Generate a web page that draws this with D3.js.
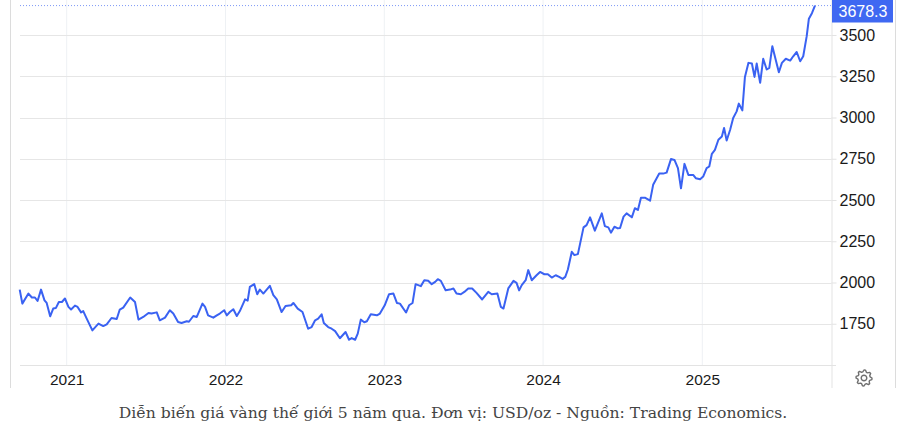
<!DOCTYPE html>
<html>
<head>
<meta charset="utf-8">
<script src="https://cdn.jsdelivr.net/npm/d3@7"></script>
<style>
  body { margin: 0; background: #fff; }
  text { font-family: "Liberation Sans", Arial, sans-serif; }
</style>
</head>
<body>
<div id="viz-container"></div>
<script>
// weekly-ish readings of the gold price (USD/oz)
var dates = [
  "2020-09-15","2020-09-21","2020-10-05","2020-10-13","2020-10-20","2020-10-26","2020-11-03","2020-11-11",
  "2020-11-16","2020-11-24","2020-12-01","2020-12-07","2020-12-14","2020-12-21","2020-12-28","2021-01-05",
  "2021-01-11","2021-01-20","2021-01-26","2021-02-03","2021-02-08","2021-02-16","2021-03-01","2021-03-15",
  "2021-03-26","2021-04-03","2021-04-14","2021-04-26","2021-05-03","2021-05-11","2021-05-27","2021-06-07",
  "2021-06-15","2021-06-26","2021-07-08","2021-07-15","2021-07-27","2021-08-03","2021-08-15","2021-08-26",
  "2021-09-03","2021-09-14","2021-09-22","2021-10-04","2021-10-09","2021-10-19","2021-10-27","2021-11-09",
  "2021-11-15","2021-11-22","2021-12-04","2021-12-12","2021-12-19","2021-12-29","2022-01-04","2022-01-11",
  "2022-01-19","2022-01-27","2022-02-03","2022-02-15","2022-02-21","2022-02-26","2022-03-08","2022-03-15",
  "2022-03-21","2022-03-29","2022-04-13","2022-04-21","2022-04-29","2022-05-10","2022-05-19","2022-06-01",
  "2022-06-06","2022-06-16","2022-06-27","2022-07-10","2022-07-18","2022-07-26","2022-08-02","2022-08-10",
  "2022-08-15","2022-08-25","2022-09-02","2022-09-10","2022-09-21","2022-10-04","2022-10-12","2022-10-18",
  "2022-10-26","2022-11-01","2022-11-08","2022-11-16","2022-11-22","2022-12-01","2022-12-15","2022-12-22",
  "2023-01-02","2023-01-12","2023-01-22","2023-01-30","2023-02-06","2023-02-20","2023-02-27","2023-03-07",
  "2023-03-14","2023-03-26","2023-04-03","2023-04-12","2023-04-20","2023-04-28","2023-05-04","2023-05-11",
  "2023-05-22","2023-06-01","2023-06-09","2023-06-16","2023-06-26","2023-07-04","2023-07-13","2023-07-22",
  "2023-08-01","2023-08-14","2023-08-28","2023-09-05","2023-09-18","2023-09-26","2023-10-02","2023-10-13",
  "2023-10-25","2023-11-01","2023-11-07","2023-11-13","2023-11-22","2023-11-28","2023-12-06","2023-12-17",
  "2023-12-25","2024-01-04","2024-01-12","2024-01-21","2024-01-30","2024-02-07","2024-02-15","2024-02-21",
  "2024-02-27","2024-03-07","2024-03-13","2024-03-21","2024-04-03","2024-04-10","2024-04-18","2024-04-29",
  "2024-05-15","2024-05-22","2024-05-30","2024-06-05","2024-06-13","2024-06-21","2024-06-26","2024-07-04",
  "2024-07-11","2024-07-23","2024-07-30","2024-08-06","2024-08-13","2024-08-22","2024-09-03","2024-09-10",
  "2024-09-24","2024-10-03","2024-10-11","2024-10-21","2024-10-29","2024-11-06","2024-11-13","2024-11-21",
  "2024-11-30","2024-12-11","2024-12-17","2024-12-27","2025-01-03","2025-01-11","2025-01-17","2025-01-23",
  "2025-01-30","2025-02-07","2025-02-15","2025-02-20","2025-02-26","2025-03-06","2025-03-13","2025-03-21",
  "2025-03-26","2025-04-03","2025-04-09","2025-04-17","2025-04-25","2025-05-01","2025-05-06","2025-05-14",
  "2025-05-21","2025-05-29","2025-06-04","2025-06-11","2025-06-17","2025-06-26","2025-07-03","2025-07-12",
  "2025-07-22","2025-07-29","2025-08-06","2025-08-14","2025-08-21","2025-08-29","2025-09-03","2025-09-10",
  "2025-09-17"
];
var prices = [
  1957,1872,1933,1909,1909,1888,1957,1892,
  1876,1795,1842,1845,1882,1882,1903,1852,
  1836,1860,1852,1819,1827,1781,1710,1751,
  1736,1746,1785,1779,1836,1848,1909,1882,
  1775,1791,1815,1812,1819,1771,1787,1832,
  1812,1761,1755,1765,1762,1797,1791,1872,
  1852,1801,1787,1801,1812,1832,1801,1821,
  1838,1797,1827,1898,1890,1973,1990,1929,
  1957,1933,1980,1923,1898,1821,1858,1862,
  1876,1842,1821,1720,1730,1771,1781,1807,
  1755,1730,1720,1705,1662,1700,1653,1663,
  1653,1690,1775,1759,1765,1807,1801,1812,
  1862,1929,1933,1876,1872,1818,1862,1876,
  1990,1978,2014,2010,1990,2004,2020,2010,
  1953,1957,1964,1933,1929,1943,1964,1964,
  1937,1897,1943,1929,1933,1852,1842,1964,
  2010,1998,1952,1984,2014,2075,2014,2044,
  2064,2050,2050,2030,2044,2034,2022,2034,
  2079,2186,2166,2172,2334,2348,2395,2314,
  2419,2342,2334,2302,2338,2328,2330,2399,
  2419,2395,2450,2440,2514,2514,2496,2592,
  2660,2660,2666,2748,2743,2693,2571,2719,
  2652,2652,2632,2626,2642,2693,2703,2780,
  2804,2865,2885,2936,2861,2926,2997,3037,
  3084,3043,3246,3331,3327,3246,3327,3210,
  3356,3291,3301,3432,3368,3274,3331,3356,
  3345,3371,3397,3341,3371,3493,3599,3632,
  3678.3
];
var yTicks = [1750, 2000, 2250, 2500, 2750, 3000, 3250, 3500];
var xTicks = ["2021-01-01", "2022-01-01", "2023-01-01", "2024-01-01", "2025-01-01"];
var lastLabel = "3678.3";
var caption = "Diễn biến giá vàng thế giới 5 năm qua. Đơn vị: USD/oz - Nguồn: Trading Economics.";

var parse = d3.timeParse("%Y-%m-%d");
var data = dates.map(function(d, i) { return {date: parse(d), value: prices[i]}; });

var W = 898, H = 427;
var plot = {left: 20, right: 831.5, top: 2, bottom: 365};

var svg = d3.select('#viz-container').append('svg')
  .attr('width', W)
  .attr('height', H);

var x = d3.scaleTime()
  .domain([parse(xTicks[0]), parse(xTicks[4])])
  .range([66.7, 702.3]);

var y = d3.scaleLinear()
  .domain([1500, 3700])
  .range([plot.bottom, plot.top]);

// panel borders
svg.append('line')
  .attr('x1', 10.5).attr('x2', 10.5).attr('y1', 0).attr('y2', 388)
  .attr('stroke', '#dcdcdc');
svg.append('line')
  .attr('x1', 895.5).attr('x2', 895.5).attr('y1', 0).attr('y2', 388)
  .attr('stroke', '#dcdcdc');

// vertical year grid
svg.append('g').selectAll('line')
  .data(xTicks)
  .enter().append('line')
  .attr('x1', function(d) { return x(parse(d)); })
  .attr('x2', function(d) { return x(parse(d)); })
  .attr('y1', 0)
  .attr('y2', plot.bottom)
  .attr('stroke', '#eef1f4');

// horizontal grid
svg.append('g').selectAll('line')
  .data(yTicks)
  .enter().append('line')
  .attr('x1', plot.left)
  .attr('x2', plot.right)
  .attr('y1', function(d) { return Math.round(y(d)) + 0.5; })
  .attr('y2', function(d) { return Math.round(y(d)) + 0.5; })
  .attr('stroke', '#e6e6e6');

// x axis baseline
svg.append('line')
  .attr('x1', plot.left).attr('x2', 836)
  .attr('y1', plot.bottom + 0.5).attr('y2', plot.bottom + 0.5)
  .attr('stroke', '#e3e3e3');

// right axis divider
svg.append('line')
  .attr('x1', plot.right + 0.5).attr('x2', plot.right + 0.5)
  .attr('y1', 0).attr('y2', 388)
  .attr('stroke', '#e3e3e3');

// y axis labels
var yAxis = svg.append('g')
  .attr('transform', 'translate(' + plot.right + ',0)')
  .call(d3.axisRight(y).tickValues(yTicks).tickSize(5).tickPadding(3)
    .tickFormat(d3.format('d')));
yAxis.select('.domain').remove();
yAxis.selectAll('line').attr('stroke', '#e3e3e3');
yAxis.selectAll('text')
  .attr('fill', '#1a1a1a')
  .style('font-size', '16px')
  .style('font-family', '"Liberation Sans", Arial, sans-serif');

// x axis labels
var xAxis = svg.append('g')
  .attr('transform', 'translate(0,' + plot.bottom + ')')
  .call(d3.axisBottom(x).tickValues(xTicks.map(parse)).tickSize(0).tickPadding(9)
    .tickFormat(d3.timeFormat('%Y')));
xAxis.select('.domain').remove();
xAxis.selectAll('text')
  .attr('fill', '#1a1a1a')
  .style('font-size', '15.5px')
  .style('font-family', '"Liberation Sans", Arial, sans-serif');

// dotted last-value line
var last = data[data.length - 1];
svg.append('line')
  .attr('x1', plot.left).attr('x2', plot.right)
  .attr('y1', y(last.value)).attr('y2', y(last.value))
  .attr('stroke', '#7d98f6')
  .attr('stroke-width', 1)
  .attr('stroke-dasharray', '1,2');

// price line
var line = d3.line()
  .x(function(d) { return x(d.date); })
  .y(function(d) { return y(d.value); });

svg.append('path')
  .datum(data)
  .attr('fill', 'none')
  .attr('stroke', '#3a62f2')
  .attr('stroke-width', 2)
  .attr('stroke-linejoin', 'round')
  .attr('d', line);

// last value badge
svg.append('rect')
  .attr('x', 832).attr('y', 0)
  .attr('width', 61).attr('height', 22.5)
  .attr('fill', '#3f68f2');
svg.append('text')
  .attr('x', 838.5).attr('y', 17)
  .attr('fill', '#fff')
  .style('font-size', '16px')
  .text(lastLabel);

// settings gear
var gear = svg.append('g').attr('transform', 'translate(864,378)');
var teeth = 8, rOut = 8, rIn = 6.2, pts = [];
for (var i = 0; i < teeth * 4; i++) {
  var a = (i / (teeth * 4)) * 2 * Math.PI;
  var r = (i % 4 < 2) ? rOut : rIn;
  pts.push([r * Math.cos(a), r * Math.sin(a)]);
}
gear.append('path')
  .attr('d', d3.line().curve(d3.curveLinearClosed)(pts))
  .attr('fill', 'none')
  .attr('stroke', '#6f6f6f')
  .attr('stroke-width', 1.4)
  .attr('stroke-linejoin', 'round');
gear.append('circle')
  .attr('r', 2.8)
  .attr('fill', 'none')
  .attr('stroke', '#6f6f6f')
  .attr('stroke-width', 1.4);

// caption
svg.append('text')
  .attr('x', 453).attr('y', 418)
  .attr('text-anchor', 'middle')
  .attr('fill', '#444')
  .style('font-family', '"DejaVu Serif", "Liberation Serif", serif')
  .style('font-size', '15.6px')
  .text(caption);
</script>
</body>
</html>
